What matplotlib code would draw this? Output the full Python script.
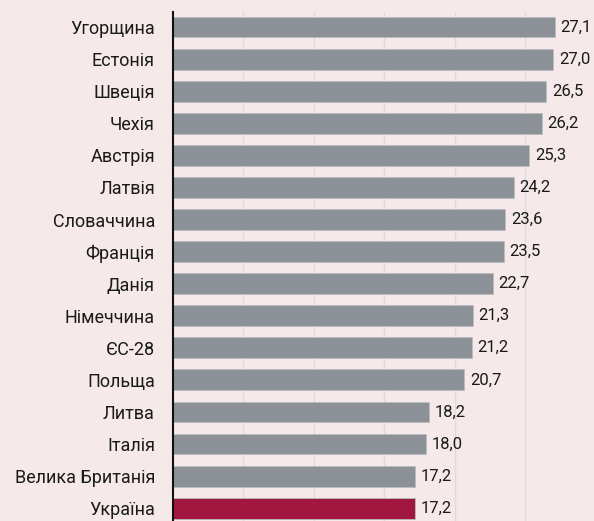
import matplotlib
matplotlib.use("Agg")
import matplotlib.pyplot as plt
from matplotlib import font_manager

names = ["Угорщина", "Естонія", "Швеція", "Чехія", "Австрія", "Латвія",
         "Словаччина", "Франція", "Данія", "Німеччина", "ЄС-28", "Польща",
         "Литва", "Італія", "Велика Британія", "Україна"]
values = [27.1, 27.0, 26.5, 26.2, 25.3, 24.2, 23.6, 23.5, 22.7, 21.3, 21.2,
          20.7, 18.2, 18.0, 17.2, 17.2]
highlight = "Україна"

fams = {f.name for f in font_manager.fontManager.ttflist}
fam = ["Liberation Sans Narrow", "DejaVu Sans"] if "Liberation Sans Narrow" in fams else ["Roboto", "DejaVu Sans"]
plt.rcParams["font.family"] = fam

bg = "#f5e9ea"
fig = plt.figure(figsize=(5.94, 5.21), dpi=100, facecolor=bg)
ax = fig.add_axes([173 / 594, 0, 1 - 173 / 594, 1 - 12 / 521], facecolor=bg)

ypos = list(range(len(names)))
colors = ["#a0173f" if n == highlight else "#8b9197" for n in names]
ax.barh(ypos, values, height=0.65, color=colors, edgecolor="#b9bec2", linewidth=0.6, zorder=2)

for y, v in zip(ypos, values):
    ax.text(v + 0.4, y, f"{v:.1f}".replace(".", ","), va="center", ha="left",
            fontsize=12, color="#1a1a1a")

ax.set_yticks(ypos)
ax.set_yticklabels(names, fontsize=13, color="#1a1a1a")
ax.tick_params(axis="y", length=0, pad=13)
ax.tick_params(axis="x", length=0, labelbottom=False)
ax.set_xticks([5, 10, 15, 20, 25, 30])
ax.grid(axis="x", color="#dcdcdc", linewidth=1, zorder=0)
ax.set_xlim(0, 29.9)
ax.set_ylim(15.4, -0.47)
for s in ["top", "right", "bottom"]:
    ax.spines[s].set_visible(False)
ax.spines["left"].set_color("#111111")
ax.spines["left"].set_linewidth(1.5)
ax.spines["left"].set_zorder(3)

fig.savefig("out.png", dpi=100, facecolor=bg)
